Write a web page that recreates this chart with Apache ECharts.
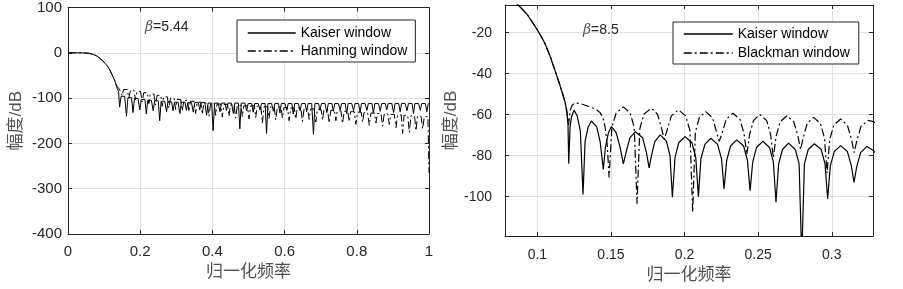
<!DOCTYPE html>
<html>
<head>
<meta charset="utf-8">
<script src="https://cdn.jsdelivr.net/npm/echarts@6/dist/echarts.min.js"></script>
<style>
  html, body { margin: 0; padding: 0; background: #fff; }
  #chart { width: 903px; height: 289px; }
</style>
</head>
<body>
<div id="chart"></div>
<script>
// 左图: beta=5.44 Kaiser 与 Hanming (归一化频率, dB)
const leftKaiser = [
  [0,0],[0.03,0],[0.05,-0.5],[0.06,-1.5],[0.07,-3.5],[0.08,-7],[0.09,-13],[0.1,-21],[0.11,-30],[0.116,-38],
  [0.12,-45],[0.125,-53],[0.13,-63],[0.136,-78],[0.14,-85],
  [0.143,-120],[0.147,-96],[0.152,-92],[0.157,-96],
  [0.162,-140],[0.166,-99],[0.171,-95],[0.176,-99],
  [0.180,-132],[0.184,-101],[0.189,-97],[0.194,-101],
  [0.199,-126],[0.203,-103],[0.208,-99],[0.213,-103],
  [0.217,-135],[0.221,-105],[0.226,-101],[0.231,-105],
  [0.236,-128],[0.240,-106],[0.245,-102],[0.250,-106],
  [0.254,-150],[0.258,-107],[0.263,-103],[0.268,-107],
  [0.273,-130],[0.277,-108],[0.282,-104],[0.287,-108],
  [0.291,-128],[0.295,-109],[0.300,-105],[0.305,-109],
  [0.310,-134],[0.314,-109],[0.319,-105],[0.324,-109],
  [0.328,-127],[0.332,-110],[0.337,-106],[0.342,-110],
  [0.347,-131],[0.351,-110],[0.356,-106],[0.361,-110],
  [0.365,-126],[0.369,-110],[0.374,-106],[0.379,-110],
  [0.384,-138],[0.388,-111],[0.393,-107],[0.398,-111],
  [0.402,-172],[0.406,-111],[0.411,-107],[0.416,-111],
  [0.421,-130],[0.425,-111],[0.430,-107],[0.435,-111],
  [0.439,-127],[0.443,-111],[0.448,-107],[0.453,-111],
  [0.458,-134],[0.462,-111],[0.467,-107],[0.472,-111],
  [0.476,-168],[0.480,-111],[0.485,-107],[0.490,-111],
  [0.495,-128],[0.499,-112],[0.504,-108],[0.509,-112],
  [0.513,-131],[0.517,-112],[0.522,-108],[0.527,-112],
  [0.532,-126],[0.536,-112],[0.541,-108],[0.546,-112],
  [0.550,-178],[0.554,-112],[0.559,-108],[0.564,-112],
  [0.569,-129],[0.573,-112],[0.578,-108],[0.583,-112],
  [0.587,-133],[0.591,-112],[0.596,-108],[0.601,-112],
  [0.606,-127],[0.610,-112],[0.615,-108],[0.620,-112],
  [0.624,-135],[0.628,-112],[0.633,-108],[0.638,-112],
  [0.643,-128],[0.647,-112],[0.652,-108],[0.657,-112],
  [0.661,-130],[0.665,-112],[0.670,-108],[0.675,-112],
  [0.680,-180],[0.684,-112],[0.689,-108],[0.694,-112],
  [0.698,-127],[0.702,-112],[0.707,-108],[0.712,-112],
  [0.717,-132],[0.721,-112],[0.726,-108],[0.731,-112],
  [0.735,-129],[0.739,-112],[0.744,-108],[0.749,-112],
  [0.754,-126],[0.758,-112],[0.763,-108],[0.768,-112],
  [0.772,-134],[0.776,-112],[0.781,-108],[0.786,-112],
  [0.791,-128],[0.795,-112],[0.800,-108],[0.805,-112],
  [0.809,-131],[0.813,-112],[0.818,-108],[0.823,-112],
  [0.828,-127],[0.832,-112],[0.837,-108],[0.842,-112],
  [0.846,-133],[0.850,-112],[0.855,-108],[0.860,-112],
  [0.865,-129],[0.869,-112],[0.874,-108],[0.879,-112],
  [0.883,-126],[0.887,-112],[0.892,-108],[0.897,-112],
  [0.902,-132],[0.906,-112],[0.911,-108],[0.916,-112],
  [0.920,-130],[0.924,-112],[0.929,-108],[0.934,-112],
  [0.939,-128],[0.943,-112],[0.948,-108],[0.953,-112],
  [0.957,-134],[0.961,-112],[0.966,-108],[0.971,-112],
  [0.976,-127],[0.980,-112],[0.985,-108],[0.990,-112],
  [0.994,-130],[0.998,-112],[1.0,-110]
];

const leftHanming = [
  [0,0],[0.03,0],[0.05,-0.5],[0.06,-1.5],[0.07,-3.5],[0.08,-7],[0.09,-13],[0.1,-21],[0.11,-30],[0.116,-38],
  [0.12,-45],[0.125,-53],[0.13,-62],[0.136,-74],[0.142,-80],[0.146,-86],
  [0.150,-95],[0.154,-81],[0.159,-77],[0.164,-81],
  [0.1685,-100],[0.173,-83],[0.178,-79],[0.183,-83],
  [0.187,-104],[0.191,-85],[0.196,-81],[0.201,-85],
  [0.2055,-108],[0.210,-88],[0.215,-84],[0.220,-88],
  [0.224,-112],[0.228,-91],[0.233,-87],[0.238,-91],
  [0.2425,-115],[0.247,-94],[0.252,-90],[0.257,-94],
  [0.261,-118],[0.265,-97],[0.270,-93],[0.275,-97],
  [0.2795,-122],[0.284,-100],[0.289,-96],[0.294,-100],
  [0.298,-125],[0.302,-103],[0.307,-99],[0.312,-103],
  [0.3165,-128],[0.321,-105],[0.326,-101],[0.331,-105],
  [0.335,-130],[0.339,-107],[0.344,-103],[0.349,-107],
  [0.3535,-134],[0.358,-109],[0.363,-105],[0.368,-109],
  [0.372,-136],[0.376,-111],[0.381,-107],[0.386,-111],
  [0.3905,-140],[0.395,-112],[0.400,-108],[0.405,-112],
  [0.409,-138],[0.413,-113],[0.418,-109],[0.423,-113],
  [0.4275,-142],[0.432,-114],[0.437,-110],[0.442,-114],
  [0.446,-140],[0.450,-115],[0.455,-111],[0.460,-115],
  [0.4645,-144],[0.469,-116],[0.474,-112],[0.479,-116],
  [0.483,-141],[0.487,-117],[0.492,-113],[0.497,-117],
  [0.5015,-146],[0.506,-117],[0.511,-113],[0.516,-117],
  [0.520,-143],[0.524,-118],[0.529,-114],[0.534,-118],
  [0.5385,-155],[0.543,-119],[0.548,-115],[0.553,-119],
  [0.557,-145],[0.561,-119],[0.566,-115],[0.571,-119],
  [0.5755,-148],[0.580,-120],[0.585,-116],[0.590,-120],
  [0.594,-144],[0.598,-121],[0.603,-117],[0.608,-121],
  [0.6125,-150],[0.617,-122],[0.622,-118],[0.627,-122],
  [0.631,-146],[0.635,-122],[0.640,-118],[0.645,-122],
  [0.6495,-152],[0.654,-123],[0.659,-119],[0.664,-123],
  [0.668,-147],[0.672,-124],[0.677,-120],[0.682,-124],
  [0.6865,-153],[0.691,-125],[0.696,-121],[0.701,-125],
  [0.705,-149],[0.709,-126],[0.714,-122],[0.719,-126],
  [0.7235,-155],[0.728,-127],[0.733,-123],[0.738,-127],
  [0.742,-150],[0.746,-128],[0.751,-124],[0.756,-128],
  [0.7605,-156],[0.765,-129],[0.770,-125],[0.775,-129],
  [0.779,-152],[0.783,-130],[0.788,-126],[0.793,-130],
  [0.7975,-158],[0.802,-131],[0.807,-127],[0.812,-131],
  [0.816,-153],[0.820,-132],[0.825,-128],[0.830,-132],
  [0.8345,-160],[0.839,-133],[0.844,-129],[0.849,-133],
  [0.853,-155],[0.857,-134],[0.862,-130],[0.867,-134],
  [0.8715,-162],[0.876,-135],[0.881,-131],[0.886,-135],
  [0.890,-158],[0.894,-136],[0.899,-132],[0.904,-136],
  [0.9085,-165],[0.913,-137],[0.918,-133],[0.923,-137],
  [0.927,-178],[0.931,-138],[0.936,-134],[0.941,-138],
  [0.9455,-176],[0.950,-139],[0.955,-135],[0.960,-139],
  [0.964,-172],[0.968,-140],[0.973,-136],[0.978,-140],
  [0.9825,-168],[0.987,-141],[0.992,-137],[0.997,-141],
  [1.0,-265]
];

// 右图: beta=8.5 Kaiser 与 Blackman, 局部放大
const rightKaiser = [
  [0.08,-2.5],[0.087,-6.5],[0.093,-11],[0.1,-18.6],[0.105,-25],[0.1086,-31.4],[0.112,-38.5],[0.1154,-45.8],
  [0.1188,-53.8],[0.12,-58],[0.1208,-65],[0.1213,-84],
  [0.1222,-66],[0.1232,-61],[0.1249,-57.8],[0.127,-60.5],[0.1292,-68],[0.131,-99],
  [0.1324,-73],[0.1345,-66],[0.1367,-63.1],[0.1403,-66],[0.1426,-73],[0.1448,-86.7],
  [0.1462,-76],[0.1482,-69],[0.1503,-65.8],[0.1535,-68.8],[0.1562,-76],[0.1584,-84],
  [0.1602,-78.5],[0.1628,-71.3],[0.1666,-68.3],[0.1715,-71.3],[0.1741,-78.5],[0.1759,-86],
  [0.1775,-80],[0.1798,-73],[0.1835,-69.9],[0.1877,-73],[0.1901,-80],[0.1917,-100.3],
  [0.1935,-81],[0.196,-73.7],[0.2003,-70.7],[0.205,-73.7],[0.2076,-81],[0.2094,-100],
  [0.2111,-81.5],[0.2138,-74.5],[0.2178,-71.5],[0.2224,-74.5],[0.2251,-81.5],[0.2268,-96.3],
  [0.2286,-82.3],[0.2312,-75.3],[0.2354,-72.3],[0.2401,-75.3],[0.2427,-82.3],[0.2445,-97.1],
  [0.2463,-83],[0.2489,-76],[0.2531,-73],[0.2577,-76],[0.2603,-83],[0.2621,-102.7],
  [0.2639,-84],[0.2665,-77],[0.2706,-73.9],[0.2752,-77],[0.2778,-84],[0.2796,-130],
  [0.2814,-84],[0.284,-77],[0.2882,-74.2],[0.2928,-77],[0.2954,-84],[0.2972,-101],
  [0.299,-85],[0.3017,-78],[0.306,-75.1],[0.3106,-78],[0.3133,-85],[0.3151,-93.1],
  [0.3169,-85.5],[0.3196,-78.5],[0.3238,-75.5],[0.3283,-77.5],[0.3292,-78.5]
];

const rightBlackman = [
  [0.08,-2.5],[0.087,-6.5],[0.093,-11],[0.1,-18.6],[0.105,-25],[0.1086,-31.4],[0.112,-38.5],[0.1154,-45.8],
  [0.1188,-53.8],[0.1202,-60],[0.1212,-65],[0.1222,-58],[0.1235,-55.5],[0.1256,-54.2],[0.13,-54.8],
  [0.135,-56],[0.14,-57.5],[0.1426,-59],[0.1445,-61.5],[0.146,-66],[0.1475,-75],[0.1487,-90.7],
  [0.1506,-66.2],[0.1535,-59.2],[0.1584,-56.2],[0.163,-59.2],[0.1658,-66.2],[0.1677,-103.5],
  [0.1696,-66.8],[0.1723,-59.8],[0.1775,-56.8],[0.1816,-59.8],[0.1844,-66.8],[0.1862,-72],
  [0.1881,-67.6],[0.191,-60.6],[0.1958,-57.6],[0.2007,-60.6],[0.2036,-67.6],[0.2055,-107.5],
  [0.2073,-68.5],[0.21,-61.5],[0.2143,-58.5],[0.219,-61.5],[0.2217,-68.5],[0.2235,-73],
  [0.2254,-69.3],[0.2282,-62.3],[0.2328,-59.3],[0.2376,-62.3],[0.2404,-69.3],[0.2423,-79.5],
  [0.2441,-69.9],[0.2468,-62.9],[0.2511,-59.9],[0.2558,-62.9],[0.2585,-69.9],[0.2603,-81],
  [0.2622,-70.5],[0.2649,-63.5],[0.2695,-60.5],[0.2742,-63.5],[0.277,-70.5],[0.2788,-77],
  [0.2806,-71.3],[0.2833,-64.3],[0.2877,-61.3],[0.2923,-64.3],[0.295,-71.3],[0.2968,-88.5],
  [0.2986,-72.1],[0.3014,-65.1],[0.306,-62.1],[0.3106,-65.1],[0.3134,-72.1],[0.3152,-78.5],
  [0.317,-72.8],[0.3198,-65.8],[0.3245,-62.8],[0.3283,-63.4],[0.3292,-64]
];

const rightXTicks = [0.1, 0.15, 0.2, 0.25, 0.3];
const rightYTicks = [-100, -80, -60, -40, -20];

let FONT = "'Liberation Sans', 'Noto Sans CJK SC', sans-serif";
let frameColor = '#262626';
let gridColor = '#e0e0e0';
let dashDot = [8, 3, 2, 3];

let myChart = echarts.init(document.getElementById('chart'));

function mainAxis(extra) {
  return Object.assign({
    type: 'value',
    axisLine: { show: true, onZero: false, lineStyle: { color: frameColor, width: 1 } },
    axisTick: { show: true, inside: true, length: 4, lineStyle: { color: frameColor } },
    axisLabel: { color: '#262626', fontSize: 15, fontFamily: FONT },
    splitLine: { show: true, lineStyle: { color: gridColor, width: 1 } },
    nameLocation: 'middle',
    nameTextStyle: { color: '#505050', fontSize: 17, fontFamily: FONT }
  }, extra);
}
function boxAxis(extra) {
  return Object.assign({
    type: 'value',
    axisLine: { show: true, onZero: false, lineStyle: { color: frameColor, width: 1 } },
    axisTick: { show: true, inside: true, length: 4, lineStyle: { color: frameColor } },
    axisLabel: { show: false },
    splitLine: { show: false }
  }, extra);
}

// 图例: 只画线, 隐藏默认的圆点
function boxLegend(names, left, top, width, gap, pad) {
  return {
    data: names,
    orient: 'vertical', left: left, top: top,
    itemWidth: width, itemHeight: 14, itemGap: gap,
    padding: pad,
    backgroundColor: '#fff', borderColor: frameColor, borderWidth: 1, borderRadius: 0,
    itemStyle: { opacity: 0 },
    lineStyle: { width: 1.5 },
    textStyle: { color: '#000', fontSize: 14, fontFamily: FONT },
    selectedMode: false
  };
}

myChart.setOption({
  animation: false,
  backgroundColor: '#fff',
  grid: [
    { left: 68, top: 5, width: 361, height: 229 },
    { left: 505, top: 5, width: 368, height: 234 }
  ],
  xAxis: [
    mainAxis({ gridIndex: 0, position: 'bottom', min: 0, max: 1, interval: 0.2,
      name: '归一化频率', nameGap: 30,
      axisLabel: { color: '#262626', fontSize: 15, fontFamily: FONT, margin: 10 } }),
    boxAxis({ gridIndex: 0, position: 'top', min: 0, max: 1, interval: 0.2 }),
    mainAxis({ gridIndex: 1, position: 'bottom', min: 0.078, max: 0.328,
      name: '归一化频率', nameGap: 31,
      axisTick: { show: true, inside: true, length: 4, customValues: rightXTicks, lineStyle: { color: frameColor } },
      axisLabel: { color: '#262626', fontSize: 14, fontFamily: FONT, margin: 12,
        customValues: rightXTicks, formatter: v => String(+v.toFixed(2)) } }),
    boxAxis({ gridIndex: 1, position: 'top', min: 0.078, max: 0.328,
      axisTick: { show: true, inside: true, length: 4, customValues: rightXTicks, lineStyle: { color: frameColor } } })
  ],
  yAxis: [
    mainAxis({ gridIndex: 0, position: 'left', min: -400, max: 100, interval: 100,
      name: '幅度/dB', nameGap: 43,
      axisLabel: { color: '#262626', fontSize: 15, fontFamily: FONT, margin: 6 } }),
    boxAxis({ gridIndex: 0, position: 'right', min: -400, max: 100, interval: 100 }),
    mainAxis({ gridIndex: 1, position: 'left', min: -119.2, max: -6.5,
      name: '幅度/dB', nameGap: 43,
      axisTick: { show: true, inside: true, length: 4, customValues: rightYTicks, lineStyle: { color: frameColor } },
      axisLabel: { color: '#262626', fontSize: 14, fontFamily: FONT, margin: 13, customValues: rightYTicks } }),
    boxAxis({ gridIndex: 1, position: 'right', min: -119.2, max: -6.5,
      axisTick: { show: true, inside: true, length: 4, customValues: rightYTicks, lineStyle: { color: frameColor } } })
  ],
  legend: [
    boxLegend(['Kaiser window', 'Hanming window'], 237, 20, 48, 4, [6, 8, 4, 10]),
    boxLegend(['Kaiser window', 'Blackman window'], 673, 22, 49, 5, [5, 9, 4, 10])
  ],
  graphic: [
    { type: 'text', left: 145, top: 20, z: 10,
      style: { text: '{b|β}=5.44', fill: '#262626', font: '14px ' + FONT,
        rich: { b: { fontStyle: 'italic', fontFamily: 'DejaVu Serif', fontSize: 14, fill: '#555' } } } },
    { type: 'text', left: 583, top: 23, z: 10,
      style: { text: '{b|β}=8.5', fill: '#262626', font: '14px ' + FONT,
        rich: { b: { fontStyle: 'italic', fontFamily: 'DejaVu Serif', fontSize: 14, fill: '#555' } } } }
  ],
  series: [
    { name: 'Kaiser window', type: 'line', xAxisIndex: 0, yAxisIndex: 0, data: leftKaiser,
      symbol: 'none', lineStyle: { color: '#000', width: 1 }, itemStyle: { color: '#000' }, z: 3 },
    { name: 'Hanming window', type: 'line', xAxisIndex: 0, yAxisIndex: 0, data: leftHanming,
      symbol: 'none', lineStyle: { color: '#000', width: 1, type: dashDot }, itemStyle: { color: '#000' }, z: 2 },
    { name: 'Kaiser window', type: 'line', xAxisIndex: 2, yAxisIndex: 2, data: rightKaiser,
      symbol: 'none', lineStyle: { color: '#000', width: 1.2 }, itemStyle: { color: '#000' }, z: 3 },
    { name: 'Blackman window', type: 'line', xAxisIndex: 2, yAxisIndex: 2, data: rightBlackman,
      symbol: 'none', lineStyle: { color: '#000', width: 1.2, type: dashDot }, itemStyle: { color: '#000' }, z: 2 }
  ]
});
</script>
</body>
</html>
